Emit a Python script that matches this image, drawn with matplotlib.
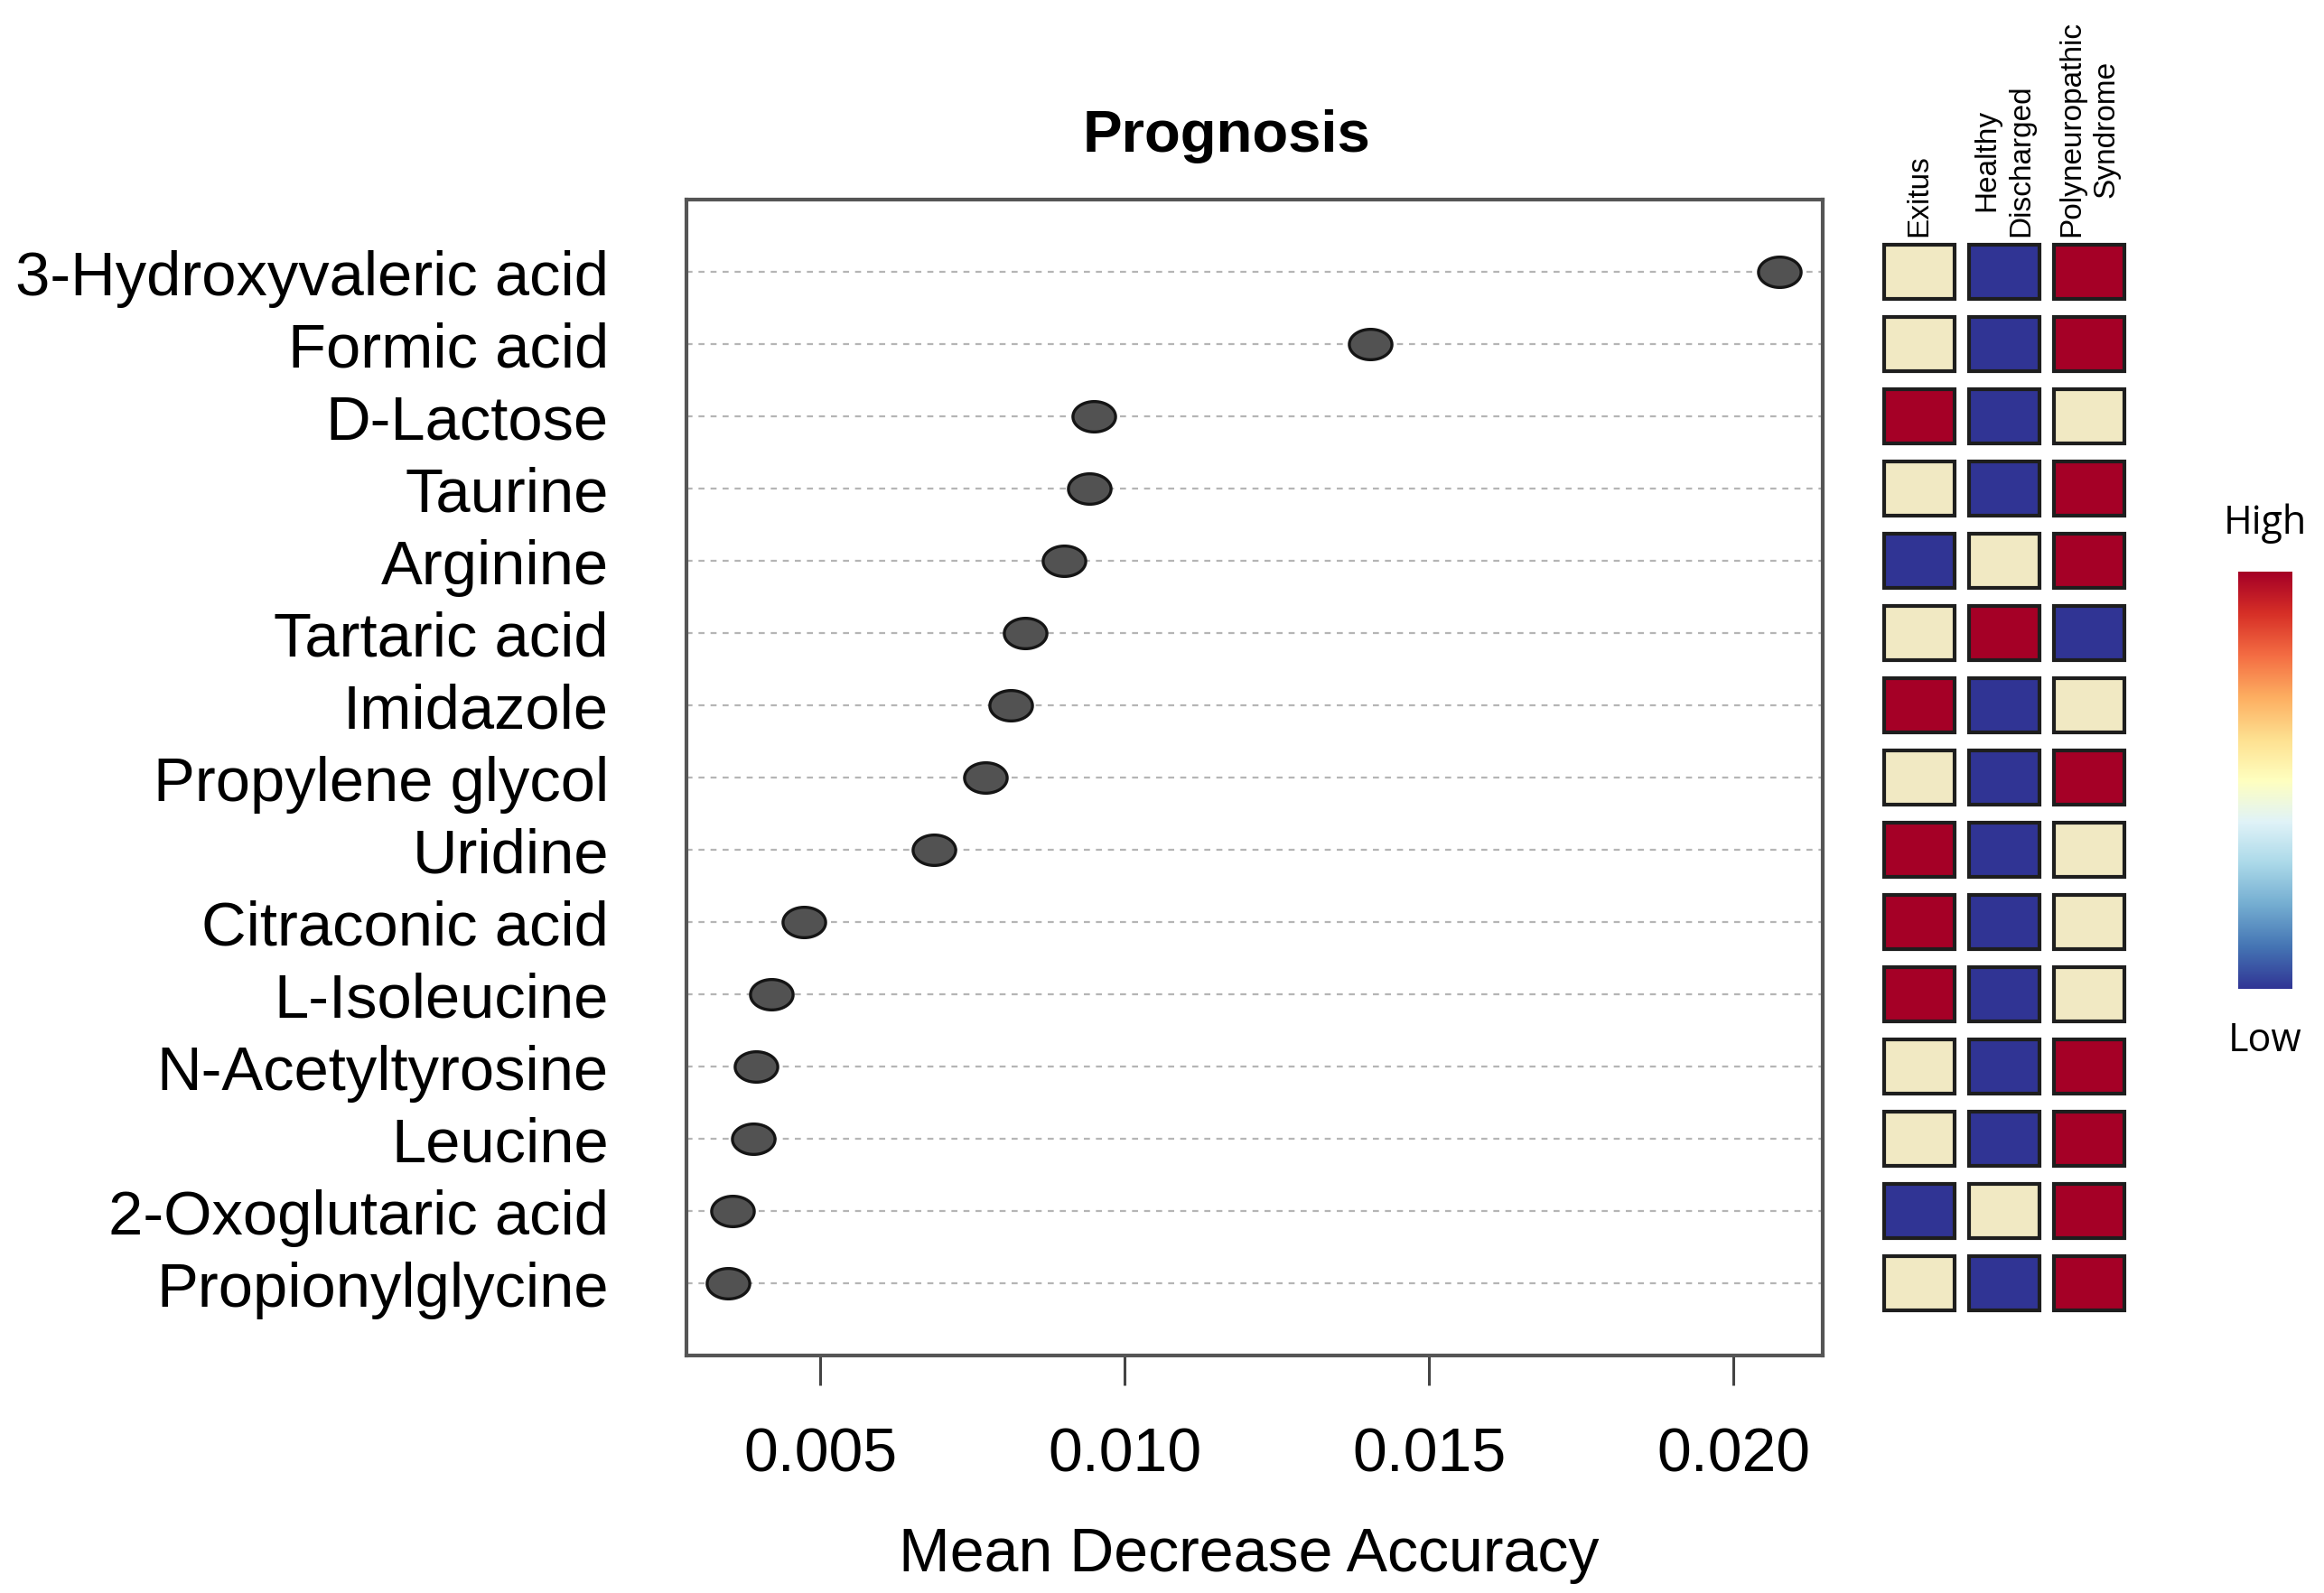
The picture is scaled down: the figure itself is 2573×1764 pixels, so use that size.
import numpy as np
import matplotlib
matplotlib.use('Agg')
import matplotlib.pyplot as plt
from matplotlib.path import Path

metabolites = ["3-Hydroxyvaleric acid", "Formic acid", "D-Lactose", "Taurine", "Arginine",
               "Tartaric acid", "Imidazole", "Propylene glycol", "Uridine", "Citraconic acid",
               "L-Isoleucine", "N-Acetyltyrosine", "Leucine", "2-Oxoglutaric acid", "Propionylglycine"]
mda = [0.02076, 0.01404, 0.00950, 0.00942, 0.00901, 0.00837, 0.00813, 0.00771,
       0.00686, 0.00473, 0.00419, 0.00395, 0.00390, 0.00356, 0.00349]
groups = ["Exitus", "Healthy\nDischarged", "Polyneuropathic\nSyndrome"]
# relative level: 0 = low, 1 = middle, 2 = high
exitus = [1, 1, 2, 1, 0, 1, 2, 1, 2, 2, 2, 1, 1, 0, 1]
healthy = [0, 0, 0, 0, 1, 2, 0, 0, 0, 0, 0, 0, 0, 1, 0]
polyneuro = [2, 2, 1, 2, 2, 0, 1, 2, 1, 1, 1, 2, 2, 2, 2]
xticks = [0.005, 0.010, 0.015, 0.020]
xtick_labels = ["0.005", "0.010", "0.015", "0.020"]

level_colors = {0: "#303494", 1: "#F1E9C3", 2: "#A50026"}

W, H = 2573, 1765
fig = plt.figure(figsize=(W / 100, H / 100), dpi=100)

# main dot plot
ax = fig.add_axes([760 / W, 1 - 1502 / H, (2018 - 760) / W, (1502 - 222) / H])
ypos = np.arange(1, len(metabolites) + 1)
t = np.linspace(0, 2 * np.pi, 60)
ellipse = Path(np.column_stack([1.4 * np.cos(t), np.sin(t)]), closed=True)
ax.hlines(ypos, 0.0028, 0.02147, colors="#b5b5b5", linestyles=(0, (3, 3)), linewidth=1.6, zorder=1)
ax.scatter(mda, ypos, marker=ellipse, s=34 ** 2, c="#525252", edgecolors="#151515",
           linewidths=2.4, zorder=3)
ax.set_xlim(0.0028, 0.02147)
ax.set_ylim(len(metabolites) + 1, 0)
ax.set_yticks(ypos, metabolites)
for lab in ax.get_yticklabels():
    lab.set_fontfamily("Liberation Sans")
    lab.set_fontsize(49.5)
ax.tick_params(axis="y", length=0, pad=62)
ax.set_xticks(xticks, xtick_labels)
for lab in ax.get_xticklabels():
    lab.set_fontfamily("Liberation Sans")
    lab.set_fontsize(49)
ax.tick_params(axis="x", length=24, width=2.2, color="#444444", pad=32)
for sp in ax.spines.values():
    sp.set_color("#555555")
    sp.set_linewidth(3)

fig.text(1358 / W, 1 - 151 / H, "Prognosis", fontsize=47, fontweight="bold",
         family="Liberation Sans", ha="center", va="center")
fig.text(1383 / W, 1 - 1722 / H, "Mean Decrease Accuracy", fontsize=49,
         family="Liberation Sans", ha="center", va="center")

# heatmap of group levels
axh = fig.add_axes([2078 / W, 1 - 1502 / H, (2360 - 2078) / W, (1502 - 222) / H])
for j, vals in enumerate([exitus, healthy, polyneuro]):
    axh.barh(ypos, width=0.82, left=j + 1 - 0.41, height=0.74,
             color=[level_colors[v] for v in vals], edgecolor="#1e1e1e", linewidth=3)
    axh.text(j + 1, 0.5, groups[j], rotation=90, ha="center", va="bottom",
             multialignment="center", fontsize=24, family="Liberation Sans",
             linespacing=1.3)
axh.set_xlim(0.5, 3.5)
axh.set_ylim(len(metabolites) + 1, 0)
axh.axis("off")

# colour key
axc = fig.add_axes([2478 / W, 1 - 1096 / H, 60 / W, (1096 - 634) / H])
grad = np.linspace(1, 0, 256).reshape(-1, 1)
axc.imshow(grad, aspect="auto", cmap="RdYlBu_r", extent=[0, 1, 0, 1])
axc.axis("off")
fig.text(2508 / W, 1 - 580 / H, "High", fontsize=31, family="Open Sans", ha="center", va="center")
fig.text(2508 / W, 1 - 1153 / H, "Low", fontsize=31, family="Open Sans", ha="center", va="center")

fig.savefig("out.png", dpi=100)
